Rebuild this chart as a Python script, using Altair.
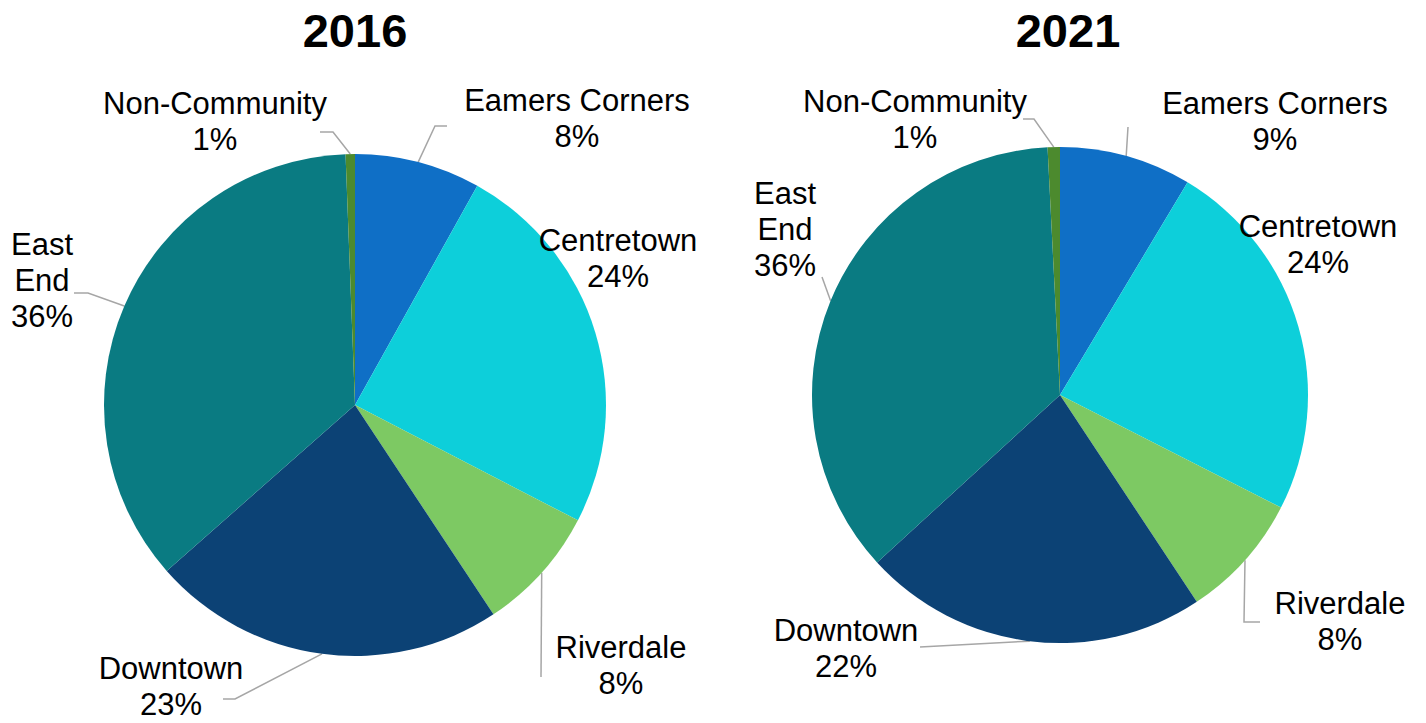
import math
import altair as alt
import pandas as pd

# ---- data ----
categories = ["Eamers Corners", "Centretown", "Riverdale", "Downtown", "East End", "Non-Community"]
label_names = ["Eamers Corners", "Centretown", "Riverdale", "Downtown", "East\nEnd", "Non-Community"]
share_2016 = [8.1, 24.5, 8.1, 22.8, 35.9, 0.6]
share_2021 = [8.6, 23.9, 8.2, 22.5, 36.0, 0.8]
pct_2016 = ["8%", "24%", "8%", "23%", "36%", "1%"]
pct_2021 = ["9%", "24%", "8%", "22%", "36%", "1%"]
colors = ["#0F6FC6", "#0DCFDA", "#7DC963", "#0C4275", "#0A7B82", "#4C8A2E"]
years = ["2016", "2021"]

# ---- annotation layout (pixel offsets from the pie centre, y pointing down) ----
panel_w, panel_h = 705, 700
centres = {"2016": (347, 397), "2021": (347, 387)}
radii = {"2016": 251, "2021": 248}
title_pos = {"2016": (0, -372), "2021": (8, -362)}
label_pos = {
    "2016": [(222, -285), (263, -145), (266, 262), (-184, 283), (-313, -123), (-140, -282)],
    "2021": [(215, -272), (258, -149), (280, 228), (-214, 255), (-275, -164), (-145, -274)],
}
elbows = {
    "2016": [[(92, -279), (80, -279)], [], [(186, 272)], [(-132, 294), (-120, 294)],
             [(-281, -112), (-267, -112)], [(-35, -273), (-22, -273)]],
    "2021": [[(68, -268)], [], [(200, 227), (184, 227)], [(-140, 252)],
             [(-238, -118)], [(-37, -276), (-26, -276)]],
}
shares = {"2016": share_2016, "2021": share_2021}
pcts = {"2016": pct_2016, "2021": pct_2021}

FONT = "Liberation Sans"
LINE_H = 36


def panel(year):
    vals = shares[year]
    cx, cy = centres[year]
    R = radii[year]
    xs = alt.Scale(domain=[-cx, panel_w - cx], nice=False, zero=False)
    ys = alt.Scale(domain=[-cy, panel_h - cy], nice=False, zero=False, reverse=True)

    slices = pd.DataFrame({"category": categories, "value": vals, "idx": list(range(len(vals)))})

    pie = alt.Chart(slices).mark_arc(outerRadius=R, stroke=None).encode(
        x=alt.X(datum=0, scale=xs, axis=None),
        y=alt.Y(datum=0, scale=ys, axis=None),
        theta=alt.Theta("value:Q", stack=True),
        order=alt.Order("idx:Q"),
        color=alt.Color("category:N", scale=alt.Scale(domain=categories, range=colors), legend=None),
    )

    # labels (block centre given; first-line centre derived from the number of lines)
    texts = [f"{n}\n{p}" for n, p in zip(label_names, pcts[year])]
    lab = pd.DataFrame({
        "text": texts,
        "lx": [p[0] for p in label_pos[year]],
        "ly": [p[1] - (t.count("\n")) * LINE_H / 2 for p, t in zip(label_pos[year], texts)],
    })
    labels = alt.Chart(lab).mark_text(
        font=FONT, fontSize=31, lineHeight=LINE_H, lineBreak="\n",
        align="center", baseline="middle", color="#000000",
    ).encode(
        x=alt.X("lx:Q", scale=xs, axis=None),
        y=alt.Y("ly:Q", scale=ys, axis=None),
        text="text:N",
    )

    # leader lines: elbow points then the slice edge at its mid angle
    rows = []
    total = sum(vals)
    cum = 0.0
    for i, v in enumerate(vals):
        mid = (cum + v / 2) / total * 2 * math.pi
        cum += v
        pts = elbows[year][i]
        if not pts:
            continue
        edge = (R * math.sin(mid), -R * math.cos(mid))
        for k, (px, py) in enumerate(list(pts) + [edge]):
            rows.append({"seg": i, "k": k, "px": px, "py": py})
    lead = pd.DataFrame(rows)
    leaders = alt.Chart(lead).mark_line(color="#A6A6A6", strokeWidth=1.5).encode(
        x=alt.X("px:Q", scale=xs, axis=None),
        y=alt.Y("py:Q", scale=ys, axis=None),
        detail="seg:N",
        order="k:Q",
    )

    tdf = pd.DataFrame({"t": [year], "tx": [title_pos[year][0]], "ty": [title_pos[year][1]]})
    title = alt.Chart(tdf).mark_text(
        font=FONT, fontSize=47, fontWeight="bold", align="center", baseline="middle", color="#000000"
    ).encode(
        x=alt.X("tx:Q", scale=xs, axis=None),
        y=alt.Y("ty:Q", scale=ys, axis=None),
        text="t:N",
    )

    return alt.layer(leaders, pie, labels, title).properties(width=panel_w, height=panel_h)


chart = alt.hconcat(panel("2016"), panel("2021"), spacing=0).resolve_scale(
    x="independent", y="independent", theta="independent"
).properties(padding=0).configure_view(stroke=None)

chart.save("out.html", embed_options={"renderer": "svg", "actions": False})
